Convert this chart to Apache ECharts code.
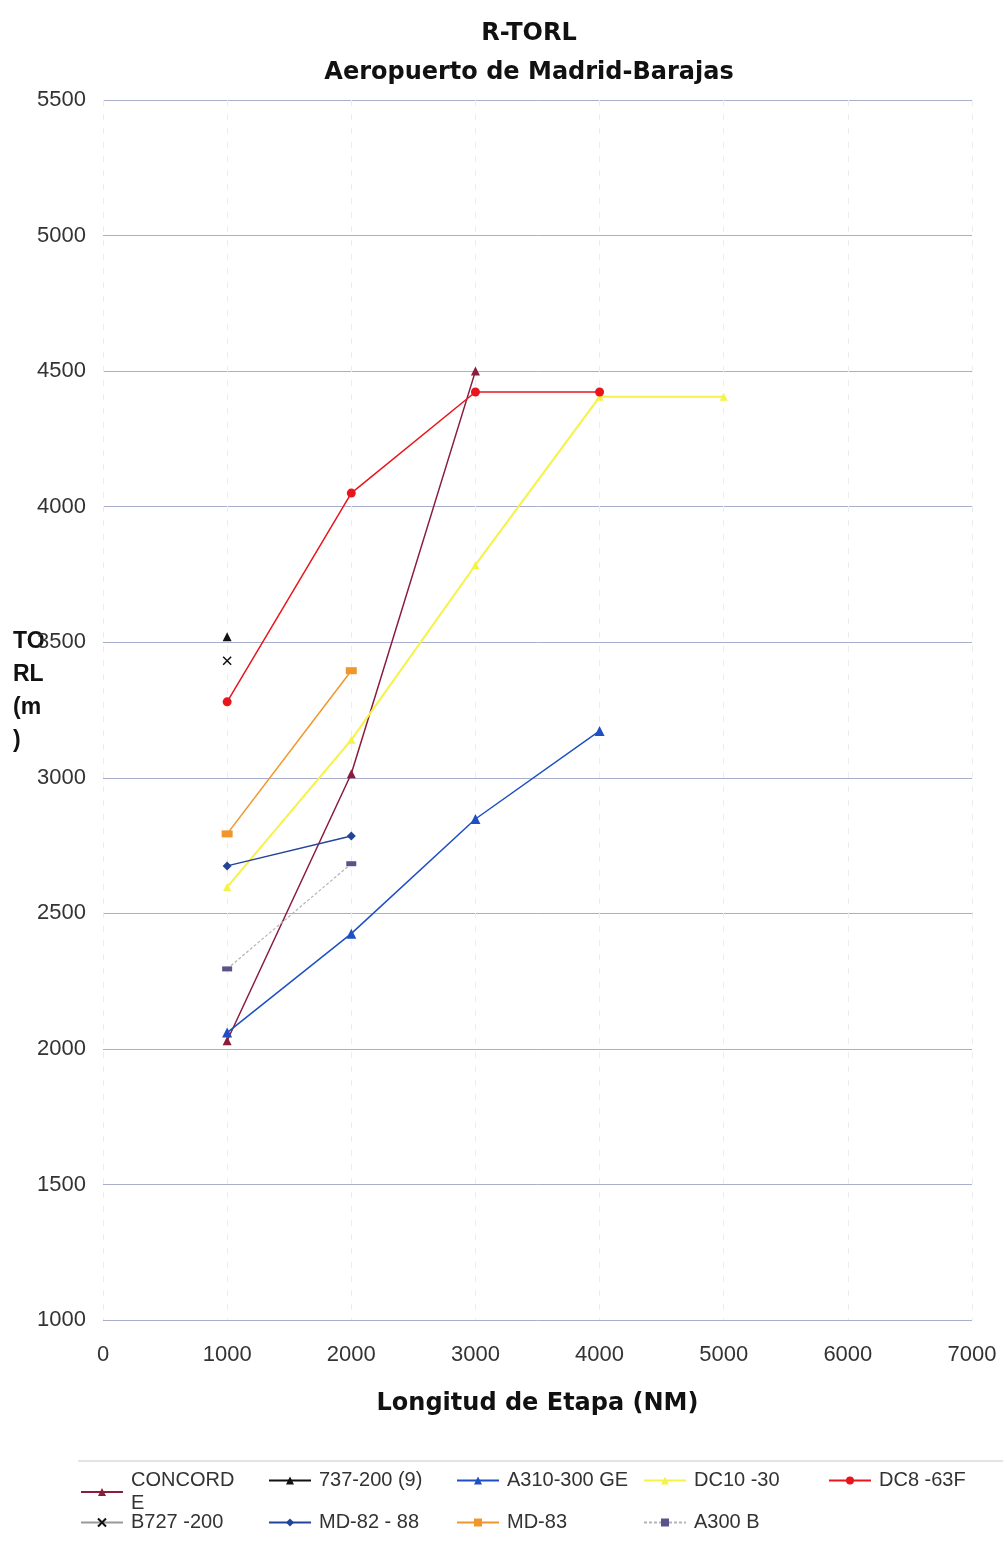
<!DOCTYPE html>
<html>
<head>
<meta charset="utf-8">
<script src="https://cdn.jsdelivr.net/npm/echarts@6/dist/echarts.min.js"></script>
<style>
html,body{margin:0;padding:0;background:#fff;}
#chart{width:1003px;height:1545px;}
</style>
</head>
<body>
<div id="chart"></div>
<script>
// Data
const stages = [1000, 2000, 3000, 4000, 5000];
const concorde = [2030, 3015, 4500];
const b737_200 = [3520];
const a310_300 = [2060, 2425, 2848, 3173];
const dc10_30 = [2597, 3140, 3785, 4405, 4405];
const dc8_63f = [3280, 4050, 4423, 4423];
const b727_200 = [3432];
const md82_88 = [2675, 2785];
const md83 = [2793, 3395];
const a300b = [2295, 2683];
const xTicks = [0, 1000, 2000, 3000, 4000, 5000, 6000, 7000];
const yTicks = [1000, 1500, 2000, 2500, 3000, 3500, 4000, 4500, 5000, 5500];

function pts(vals) { return vals.map((v, i) => [stages[i], v]); }

const FONT = '"Liberation Sans", Arial, sans-serif';
const BOLDFONT = '"DejaVu Sans", "Liberation Sans", sans-serif';
const crossPath = 'path://M0,0L10,10M10,0L0,10';

const seriesDefs = [
  {name: 'CONCORDE', data: concorde, color: '#8a1c3c', symbol: 'triangle', size: 9, lw: 1.5},
  {name: '737-200 (9)', data: b737_200, color: '#111111', symbol: 'triangle', size: 9, lw: 1.5},
  {name: 'A310-300 GE', data: a310_300, color: '#1e4fc4', symbol: 'triangle', size: 10, lw: 1.5},
  {name: 'DC10 -30', data: dc10_30, color: '#f5f346', symbol: 'triangle', size: 8, lw: 2},
  {name: 'DC8 -63F', data: dc8_63f, color: '#e8161c', symbol: 'circle', size: 9, lw: 1.5},
  {name: 'B727 -200', data: b727_200, color: '#999999', symbol: crossPath, size: 8, lw: 1, markerColor: '#111111', stroke: true},
  {name: 'MD-82 - 88', data: md82_88, color: '#23449a', symbol: 'diamond', size: 9, lw: 1.5},
  {name: 'MD-83', data: md83, color: '#f0962a', symbol: 'rect', size: [11, 7], lw: 1.5},
  {name: 'A300 B', data: a300b, color: '#b4b4bc', symbol: 'rect', size: [10, 5], lw: 1.2, markerColor: '#5a5288', dashed: true}
];

const series = seriesDefs.map(d => ({
  name: d.name,
  type: 'line',
  data: pts(d.data),
  symbol: d.symbol,
  symbolSize: d.size,
  showSymbol: true,
  animation: false,
  lineStyle: {color: d.color, width: d.lw, type: d.dashed ? [3, 2] : 'solid'},
  itemStyle: d.stroke
    ? {color: d.markerColor, borderColor: d.markerColor, borderWidth: 1.5}
    : {color: d.markerColor || d.color, borderWidth: 0}
}));

const legendPos = [
  [80, 1469], [268, 1469], [456, 1469], [643, 1469], [828, 1469],
  [80, 1511], [268, 1511], [456, 1511], [643, 1511]
];

const legends = seriesDefs.map((d, i) => ({
  data: [d.name],
  left: legendPos[i][0],
  top: legendPos[i][1],
  orient: 'horizontal',
  itemWidth: 42,
  itemHeight: 10,
  itemGap: 0,
  padding: 0,
  selectedMode: false,
  formatter: n => n === 'CONCORDE' ? 'CONCORD\nE' : n,
  textStyle: {fontFamily: FONT, fontSize: 20, color: '#333', padding: [0, 0, 0, 3], lineHeight: 23,
    verticalAlign: 'top'}
}));

const chart = echarts.init(document.getElementById('chart'), null, {renderer: 'canvas'});
chart.setOption({
  backgroundColor: '#ffffff',
  animation: false,
  title: {
    text: 'R-TORL\nAeropuerto de Madrid-Barajas',
    left: 524,
    top: 9,
    textAlign: 'center',
    textStyle: {fontFamily: BOLDFONT, fontSize: 24, fontWeight: 'bold', color: '#111', lineHeight: 39}
  },
  grid: {left: 103, right: 31, top: 100, bottom: 225, containLabel: false},
  xAxis: {
    type: 'value',
    min: xTicks[0], max: xTicks[xTicks.length - 1], interval: 1000,
    name: 'Longitud de Etapa (NM)',
    nameLocation: 'middle',
    nameGap: 72,
    nameTextStyle: {fontFamily: BOLDFONT, fontSize: 24, fontWeight: 'bold', color: '#111'},
    axisLine: {show: false},
    axisTick: {show: false},
    axisLabel: {fontFamily: FONT, fontSize: 22, color: '#333', margin: 24, formatter: v => String(v)},
    splitLine: {show: true, lineStyle: {color: '#ededf0', type: [6, 8], width: 1}}
  },
  yAxis: {
    type: 'value',
    min: yTicks[0], max: yTicks[yTicks.length - 1], interval: 500,
    axisLine: {show: false},
    axisTick: {show: false},
    axisLabel: {fontFamily: FONT, fontSize: 22, color: '#333', margin: 17, formatter: v => String(v)},
    splitLine: {show: true, lineStyle: {color: '#a9aecb', width: 1}}
  },
  legend: legends,
  graphic: [
    {type: 'text', left: 13, top: 625, style: {text: 'TO\nRL\n(m\n)', fontFamily: FONT, fontSize: 23,
      fontWeight: 'bold', fill: '#111', lineHeight: 33}},
    {type: 'line', shape: {x1: 78, y1: 1461, x2: 1003, y2: 1461}, style: {stroke: '#c8c8c8', lineWidth: 1}}
  ],
  series: series
});
</script>
</body>
</html>
